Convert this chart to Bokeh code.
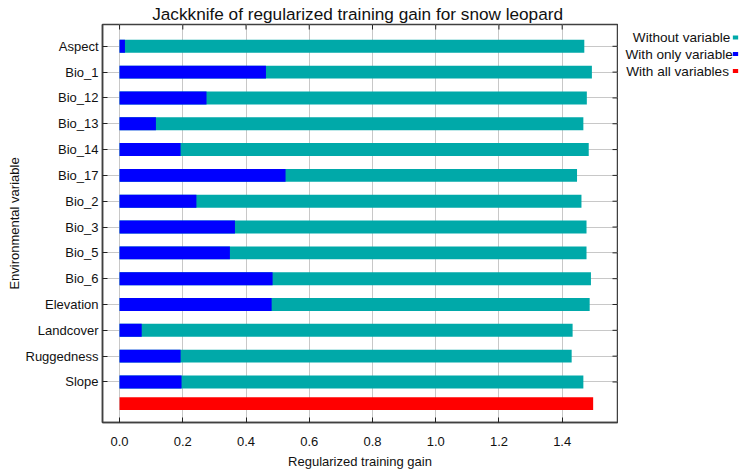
from bokeh.plotting import figure
from bokeh.models import (ColumnDataSource, Range1d, FixedTicker, LinearAxis,
                          NumeralTickFormatter)
from bokeh.layouts import column, row
from bokeh.core.properties import value
from bokeh.embed import file_html
from bokeh.resources import INLINE

# ---------------- data ----------------
title_text = "Jackknife of regularized training gain for snow leopard"
x_label = "Regularized training gain"
y_label = "Environmental variable"
categories = ["Aspect", "Bio_1", "Bio_12", "Bio_13", "Bio_14", "Bio_17", "Bio_2",
              "Bio_3", "Bio_5", "Bio_6", "Elevation", "Landcover", "Ruggedness", "Slope"]
without_variable = [1.470, 1.494, 1.478, 1.467, 1.484, 1.447, 1.461,
                    1.477, 1.477, 1.491, 1.487, 1.433, 1.430, 1.467]
with_only_variable = [0.017, 0.463, 0.275, 0.115, 0.193, 0.525, 0.243,
                      0.365, 0.349, 0.484, 0.481, 0.070, 0.193, 0.196]
with_all_variables = 1.498
x_ticks = [0.0, 0.2, 0.4, 0.6, 0.8, 1.0, 1.2, 1.4]
legend_labels = ["Without variable", "With only variable", "With all variables"]

# ---------------- style ----------------
TEAL = "#00A9A9"
BLUE = "#0000FF"
RED = "#FF0000"
GRID = "#C8C8C8"
FRAME = "#404040"
TXT = "#111111"
FONT = "Liberation Sans"
X0, X1 = -0.054, 1.575
Y_TOP, Y_BOT = -0.844, 14.57
BAR_H = 0.5
ALL_ROW_GAP = 0.84  # gap (in rows) between the last variable and the "all variables" bar

TITLE_W, TITLE_H = 744, 23
BORDER_L, BORDER_R, BORDER_T, BORDER_B = 102, 1, 1, 51
FRAME_W, FRAME_H = 515, 398
LEG_W, LEG_H = 126, 450

ypos = list(range(len(categories)))
all_row = ypos[-1] + ALL_ROW_GAP

src = ColumnDataSource(dict(y=ypos, without=without_variable, only=with_only_variable))

# ---------------- main plot ----------------
p = figure(frame_width=FRAME_W, frame_height=FRAME_H, output_backend="svg", toolbar_location=None,
           x_range=Range1d(X0, X1), y_range=Range1d(Y_BOT, Y_TOP),
           min_border_left=BORDER_L, min_border_right=BORDER_R,
           min_border_top=BORDER_T, min_border_bottom=BORDER_B,
           x_axis_location=None, y_axis_location=None)
p.background_fill_color = "white"
p.border_fill_color = "white"
p.outline_line_color = FRAME
p.outline_line_width = 1.5

p.hbar(y="y", left=0, right="without", height=BAR_H, source=src, color=TEAL, line_width=0)
p.hbar(y="y", left=0, right="only", height=BAR_H, source=src, color=BLUE, line_width=0)
p.hbar(y=[all_row], left=[0], right=[with_all_variables], height=BAR_H, color=RED, line_width=0)

xt = FixedTicker(ticks=x_ticks)
yt = FixedTicker(ticks=ypos)


def style_axis(ax):
    ax.major_tick_in = 5
    ax.major_tick_out = 0
    ax.minor_tick_in = 0
    ax.minor_tick_out = 0
    ax.axis_line_color = FRAME
    ax.axis_line_width = 1.5
    ax.major_tick_line_color = "#222222"
    ax.major_tick_line_width = 1
    ax.major_label_text_font = FONT
    ax.major_label_text_font_size = "13px"
    ax.major_label_text_color = TXT
    ax.axis_label_text_font = FONT
    ax.axis_label_text_font_size = "13px"
    ax.axis_label_text_font_style = "normal"
    ax.axis_label_text_color = TXT


bottom = LinearAxis(ticker=xt, axis_label=x_label, formatter=NumeralTickFormatter(format="0.0"))
style_axis(bottom)
bottom.major_label_standoff = 14
bottom.axis_label_standoff = 5
p.add_layout(bottom, "below")

left = LinearAxis(ticker=yt, axis_label=y_label)
style_axis(left)
left.major_label_standoff = 4
left.axis_label_standoff = 1
left.major_label_overrides = {i: c for i, c in enumerate(categories)}
p.add_layout(left, "left")

# inward tick marks on the top and right edges of the box
p.ray(x=x_ticks, y=[Y_TOP] * len(x_ticks), length=5, length_units="screen",
      angle=-1.5708, line_color="#222222", line_width=1)
p.ray(x=[X1] * len(ypos), y=ypos, length=5, length_units="screen",
      angle=3.14159, line_color="#222222", line_width=1)

p.xgrid.ticker = xt
p.ygrid.ticker = yt
for g in (p.xgrid, p.ygrid):
    g.grid_line_color = GRID
    g.grid_line_width = 1
    g.level = "underlay"


def blank_fig(w, h):
    f = figure(width=w, height=h, output_backend="svg", toolbar_location=None,
               x_range=Range1d(0, w), y_range=Range1d(h, 0),
               min_border=0, x_axis_location=None, y_axis_location=None)
    f.outline_line_color = None
    f.xgrid.visible = False
    f.ygrid.visible = False
    f.background_fill_color = "white"
    f.border_fill_color = "white"
    return f


# ---------------- title ----------------
t = blank_fig(TITLE_W, TITLE_H)
t.text(x=[151.7], y=[13.6], text=[title_text], text_align="left",
       text_baseline="alphabetic", text_font=value(FONT), text_font_size=value("17.2px"),
       text_color=TXT)

# ---------------- legend ----------------
lg = blank_fig(LEG_W, LEG_H)
leg_colors = [TEAL, BLUE, RED]
leg_text_left = [14.3, 7.0, 7.7]
leg_baseline = [15.0, 33.7, 52.7]
leg_square_y = [14.7, 33.3, 52.5]
lg.text(x=leg_text_left, y=leg_baseline, text=legend_labels, text_align="left",
        text_baseline="alphabetic", text_font=value(FONT), text_font_size=value("13.6px"),
        text_color=TXT)
lg.rect(x=[117.0] * 3, y=leg_square_y, width=5.3, height=4.6, fill_color=leg_colors,
        line_color=None)

layout = column(t, row(p, lg))
open("out.html", "w").write(file_html(layout, INLINE))
